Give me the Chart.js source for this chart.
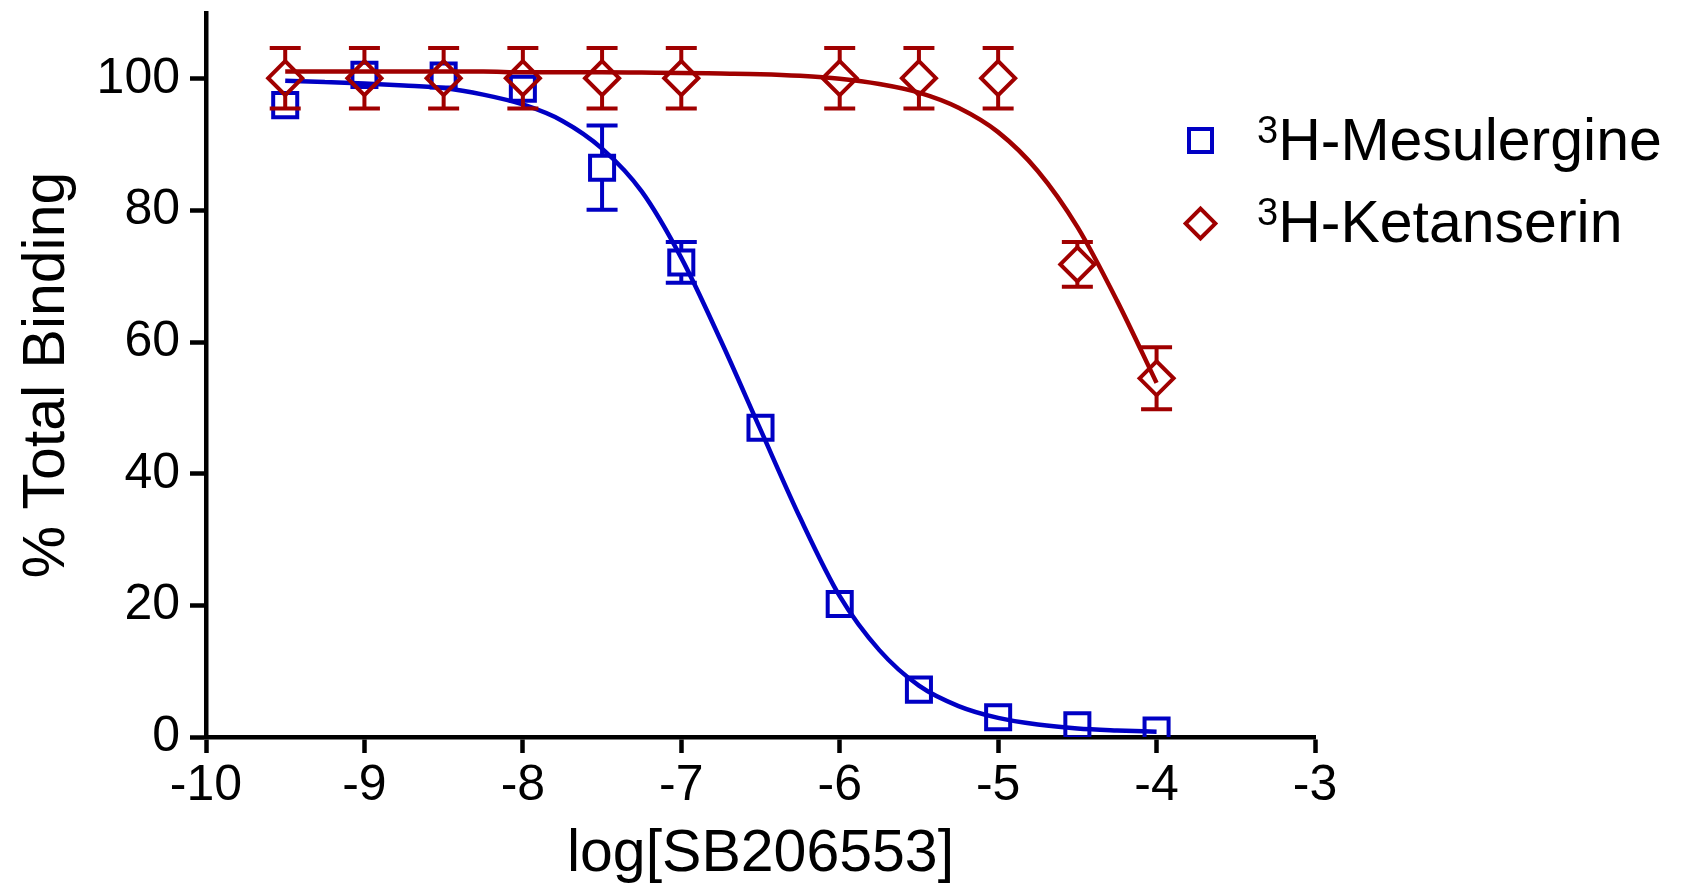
<!DOCTYPE html>
<html>
<head>
<meta charset="utf-8">
<title>SB206553 - % Total Binding</title>
<script src="https://cdn.jsdelivr.net/npm/chart.js@4.4.0/dist/chart.umd.min.js"></script>
<style>
  html, body { margin: 0; padding: 0; background: #fff; }
  #wrap { position: relative; width: 1689px; height: 886px; }
  #leyenda { position: absolute; left: 0; top: 0; font-family: 'Liberation Sans', Arial, sans-serif; color: #000; }
  .item { position: absolute; white-space: nowrap; font-size: 59px; line-height: 59px; }
  .item sup { font-size: 38px; line-height: 0; position: relative; top: -17px; vertical-align: baseline; }
  .marca { position: absolute; box-sizing: border-box; }
</style>
</head>
<body>
<div id="wrap">
  <canvas id="grafico"></canvas>
  <div id="leyenda"></div>
</div>
<script>
// log[SB206553] (M)
const concMesulergina = [-9.5, -9, -8.5, -8, -7.5, -7, -6.5, -6, -5.5, -5, -4.5, -4];
const mesulergina = [96.0, 100.6, 100.5, 98.5, 86.5, 72.1, 47.0, 20.2, 7.2, 3.0, 1.8, 1.0];
const errMesulergina = [1.0, 1.0, 1.0, 1.0, 6.4, 3.1, 1.0, 1.0, 1.0, 0.5, 0.5, 0.5];

const concKetanserina = [-9.5, -9, -8.5, -8, -7.5, -7, -6, -5.5, -5, -4.5, -4];
const ketanserina = [100.1, 100.1, 100.1, 100.1, 100.1, 100.1, 100.1, 100.1, 100.1, 71.8, 54.5];
const errKetanserina = [4.6, 4.6, 4.6, 4.6, 4.6, 4.6, 4.6, 4.6, 4.6, 3.4, 4.7];

// curvas ajustadas
const xAjuste = [-9.5, -9.25, -9, -8.75, -8.5, -8.25, -8, -7.75, -7.5, -7.25, -7, -6.75,
                 -6.5, -6.25, -6, -5.75, -5.5, -5.25, -5, -4.75, -4.5, -4.25, -4];
const ajusteMesulergina = [99.7, 99.5, 99.3, 99.0, 98.6, 97.6, 96.1, 93.6, 89.4, 82.9, 72.8, 60.2,
                           46.7, 33.3, 21.4, 13.2, 7.8, 4.7, 2.9, 1.9, 1.3, 1.0, 0.8];
const ajusteKetanserina = [101.1, 101.1, 101.1, 101.1, 101.1, 101.1, 101.0, 101.0, 101.0, 100.95, 100.9, 100.8,
                           100.7, 100.45, 100.0, 99.2, 97.9, 95.6, 91.9, 86.0, 77.5, 66.3, 53.8];

const ticksX = [-10, -9, -8, -7, -6, -5, -4, -3];
const ticksY = [0, 20, 40, 60, 80, 100];

const nombres = ['H-Mesulergine', 'H-Ketanserin'];

const AZUL = '#0000c4';
const ROJO = '#a00000';

const puntos = (xs, ys) => xs.map((x, i) => ({ x: x, y: ys[i] }));

// Barras de error dibujadas con la escala del eje y
const barrasError = {
  id: 'barrasError',
  afterDatasetDraw(chart, args) {
    const ds = chart.data.datasets[args.index];
    if (!ds.errores) return;
    const ctx = chart.ctx;
    const escalaY = chart.scales.y;
    const hueco = ds.huecoError;
    ctx.save();
    ctx.strokeStyle = ds.borderColor;
    ctx.lineWidth = 4;
    args.meta.data.forEach((p, i) => {
      const v = ds.data[i].y;
      const e = ds.errores[i];
      const yArriba = escalaY.getPixelForValue(v + e);
      const yAbajo = escalaY.getPixelForValue(v - e);
      if (p.y - yArriba <= hueco) return; // barra oculta por el simbolo
      ctx.beginPath();
      ctx.moveTo(p.x, yArriba); ctx.lineTo(p.x, p.y - hueco);
      ctx.moveTo(p.x, p.y + hueco); ctx.lineTo(p.x, yAbajo);
      ctx.moveTo(p.x - 15.5, yArriba); ctx.lineTo(p.x + 15.5, yArriba);
      ctx.moveTo(p.x - 15.5, yAbajo); ctx.lineTo(p.x + 15.5, yAbajo);
      ctx.stroke();
    });
    ctx.restore();
  }
};

Chart.defaults.font.family = "'Liberation Sans', Arial, sans-serif";
Chart.defaults.color = '#000';

const grafico = new Chart(document.getElementById('grafico'), {
  type: 'scatter',
  data: {
    datasets: [
      {
        label: nombres[1],
        data: puntos(concKetanserina, ketanserina),
        errores: errKetanserina,
        huecoError: 16,
        borderColor: ROJO,
        backgroundColor: 'rgba(0,0,0,0)',
        pointStyle: 'rectRot',
        pointRadius: 17,
        pointHoverRadius: 17,
        pointBorderWidth: 4,
        showLine: false,
        order: 1
      },
      {
        label: nombres[1] + ' ajuste',
        data: puntos(xAjuste, ajusteKetanserina),
        borderColor: ROJO,
        borderWidth: 4.5,
        pointRadius: 0,
        showLine: true,
        cubicInterpolationMode: 'monotone',
        order: 2
      },
      {
        label: nombres[0],
        data: puntos(concMesulergina, mesulergina),
        errores: errMesulergina,
        huecoError: 12,
        borderColor: AZUL,
        backgroundColor: 'rgba(0,0,0,0)',
        pointStyle: 'rect',
        pointRadius: 17,
        pointHoverRadius: 17,
        pointBorderWidth: 4,
        showLine: false,
        order: 3
      },
      {
        label: nombres[0] + ' ajuste',
        data: puntos(xAjuste, ajusteMesulergina),
        borderColor: AZUL,
        borderWidth: 4.5,
        pointRadius: 0,
        showLine: true,
        cubicInterpolationMode: 'monotone',
        order: 4
      }
    ]
  },
  options: {
    responsive: true,
    maintainAspectRatio: false,
    animation: false,
    events: [],
    layout: { autoPadding: false, padding: { left: 0, right: 374, top: 13, bottom: 0 } },
    plugins: {
      legend: { display: false },
      tooltip: { enabled: false }
    },
    scales: {
      x: {
        type: 'linear',
        min: -10,
        max: -3,
        afterBuildTicks: s => { s.ticks = ticksX.map(v => ({ value: v })); },
        afterFit: s => { s.height = 149; },
        ticks: { font: { size: 50 }, color: '#000', padding: 3, callback: v => String(v) },
        grid: { drawOnChartArea: false, tickLength: 16, tickWidth: 4.5, tickColor: '#000' },
        border: { color: '#000', width: 4.5 },
        title: {
          display: true,
          text: 'log[SB206553]',
          font: { size: 59, lineHeight: 1 },
          color: '#000',
          padding: { top: 0, bottom: 2 }
        }
      },
      y: {
        min: 0,
        max: 110,
        afterBuildTicks: s => { s.ticks = ticksY.map(v => ({ value: v })); },
        afterFit: s => { s.width = 206; s.paddingTop = 0; s.paddingBottom = 0; },
        ticks: { font: { size: 50 }, color: '#000', padding: 10, callback: v => String(v) },
        grid: { drawOnChartArea: false, tickLength: 16, tickWidth: 4.5, tickColor: '#000' },
        border: { color: '#000', width: 4.5 },
        title: {
          display: true,
          text: '% Total Binding',
          font: { size: 59, lineHeight: 1 },
          color: '#000',
          padding: { top: 18, bottom: 0 }
        }
      }
    }
  },
  plugins: [barrasError]
});

// Leyenda en HTML (texto con superindice)
const leyenda = document.getElementById('leyenda');
const filas = [
  { ds: grafico.data.datasets[2], forma: 'cuadro', cy: 140, base: 161 },
  { ds: grafico.data.datasets[0], forma: 'rombo', cy: 223, base: 243 }
];
filas.forEach(f => {
  const m = document.createElement('span');
  m.className = 'marca';
  m.style.border = '4px solid ' + f.ds.borderColor;
  if (f.forma === 'cuadro') {
    m.style.width = '27px'; m.style.height = '27px';
    m.style.left = (1200 - 13.5) + 'px'; m.style.top = (f.cy - 13.5) + 'px';
  } else {
    m.style.width = '25px'; m.style.height = '25px';
    m.style.left = (1200 - 12.5) + 'px'; m.style.top = (f.cy - 12.5) + 'px';
    m.style.transform = 'rotate(45deg)';
  }
  leyenda.appendChild(m);

  // baseline = top + 0.905em - (1.117em - line-height)/2
  const t = document.createElement('div');
  t.className = 'item';
  t.style.left = '1257px';
  t.style.top = (f.base - 50) + 'px';
  t.innerHTML = '<sup>3</sup>' + f.ds.label;
  leyenda.appendChild(t);
});
</script>
</body>
</html>
